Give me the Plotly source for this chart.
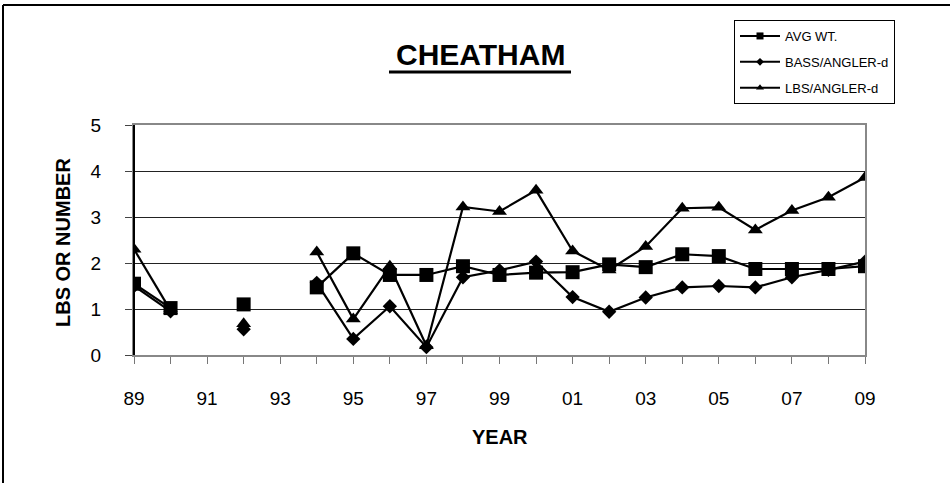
import plotly.graph_objects as go

# years 1989..2009, no survey data in 91 and 93
years = list(range(1989, 2010))
tick_labels = ["89", "", "91", "", "93", "", "95", "", "97", "", "99", "",
               "01", "", "03", "", "05", "", "07", "", "09"]

avg_wt = [1.55, 1.02, None, 1.10, None, 1.47, 2.21, 1.74, 1.74, 1.93, 1.74,
          1.79, 1.80, 1.97, 1.91, 2.19, 2.15, 1.87, 1.87, 1.87, 1.93]
bass_angler = [1.50, 0.95, None, 0.56, None, 1.57, 0.35, 1.06, 0.17, 1.69, 1.84,
               2.03, 1.26, 0.94, 1.25, 1.47, 1.50, 1.47, 1.69, 1.85, 2.03]
lbs_angler = [2.30, 0.97, None, 0.68, None, 2.24, 0.78, 1.93, 0.20, 3.22, 3.12,
              3.58, 2.26, 1.85, 2.36, 3.19, 3.21, 2.72, 3.14, 3.43, 3.86]

series = [
    ("AVG WT.", avg_wt, "square", 14, 7),
    ("BASS/ANGLER-d", bass_angler, "diamond", 11, 6),
    ("LBS/ANGLER-d", lbs_angler, "triangle-up", 13, 7),
]

fig = go.Figure()
# data traces in sheet order
for name, vals, sym, sz, _ in series:
    fig.add_trace(go.Scatter(
        x=years, y=vals, name=name, mode="lines+markers",
        connectgaps=False, showlegend=False,
        line=dict(color="black", width=2.2),
        marker=dict(symbol=sym, size=sz, color="black"),
    ))
# legend entries with the small markers of the original
for i, (name, vals, sym, _, lsz) in enumerate(series):
    fig.add_trace(go.Scatter(
        x=[None], y=[None], name=name, mode="lines+markers",
        legendgroup=str(i), legendrank=i,
        line=dict(color="black", width=2),
        marker=dict(symbol=sym, size=lsz, color="black"),
    ))

# plot area: x 134..865, y 125..355 in pixels
L, R, T, B = 134, 85, 125, 128
W, H = 950 - L - R, 483 - T - B

def px(x):
    return (x - L) / W

def py(y):
    return (483 - B - y) / H

fig.update_layout(
    width=950, height=483,
    margin=dict(l=L, r=R, t=T, b=B),
    paper_bgcolor="white", plot_bgcolor="white",
    font=dict(family="Arial, Liberation Sans, sans-serif", color="black"),
    showlegend=True,
    legend=dict(
        x=px(734), y=py(20), xanchor="left", yanchor="top",
        bordercolor="black", borderwidth=1, bgcolor="white",
        font=dict(size=13), itemsizing="trace", tracegroupgap=6,
        itemwidth=40,
    ),
    xaxis=dict(
        range=[1989, 2009], tickvals=years, ticktext=tick_labels,
        ticks="outside", ticklen=7, tickcolor="#777", tickwidth=1,
        showgrid=False, zeroline=False,
        showline=True, linecolor="#888", linewidth=2, mirror=True,
        tickfont=dict(size=19), ticklabelstandoff=18,
    ),
    yaxis=dict(
        range=[0, 5], dtick=1, ticks="outside", ticklen=7,
        tickcolor="#444", tickwidth=1,
        showgrid=True, gridcolor="#222", gridwidth=1, zeroline=False,
        showline=True, linecolor="#888", linewidth=2, mirror=True,
        tickfont=dict(size=19), ticklabelstandoff=20,
    ),
    annotations=[
        dict(text="<b>CHEATHAM</b>", x=px(480), y=py(54), xref="paper", yref="paper",
             showarrow=False, font=dict(size=30), xanchor="center", yanchor="middle"),
        dict(text="<b>LBS OR NUMBER</b>", x=px(63), y=py(243), xref="paper", yref="paper",
             showarrow=False, textangle=-90, font=dict(size=20),
             xanchor="center", yanchor="middle"),
        dict(text="<b>YEAR</b>", x=px(500), y=py(437), xref="paper", yref="paper",
             showarrow=False, font=dict(size=20), xanchor="center", yanchor="middle"),
    ],
    shapes=[
        # title underline
        dict(type="line", xref="paper", yref="paper", x0=px(389), x1=px(571),
             y0=py(72), y1=py(72), line=dict(color="black", width=3)),
        # left axis drawn darker
        dict(type="line", xref="paper", yref="paper", x0=0, x1=0, y0=0, y1=1,
             line=dict(color="black", width=2)),
        # outer chart border (top and left)
        dict(type="line", xref="paper", yref="paper", x0=px(3), x1=px(952),
             y0=py(5), y1=py(5), line=dict(color="black", width=2)),
        dict(type="line", xref="paper", yref="paper", x0=px(3), x1=px(3),
             y0=py(5), y1=py(490), line=dict(color="black", width=2)),
    ],
)

fig.write_html("out.html", config={"displayModeBar": False},
               post_script="document.body.style.margin='0';")
